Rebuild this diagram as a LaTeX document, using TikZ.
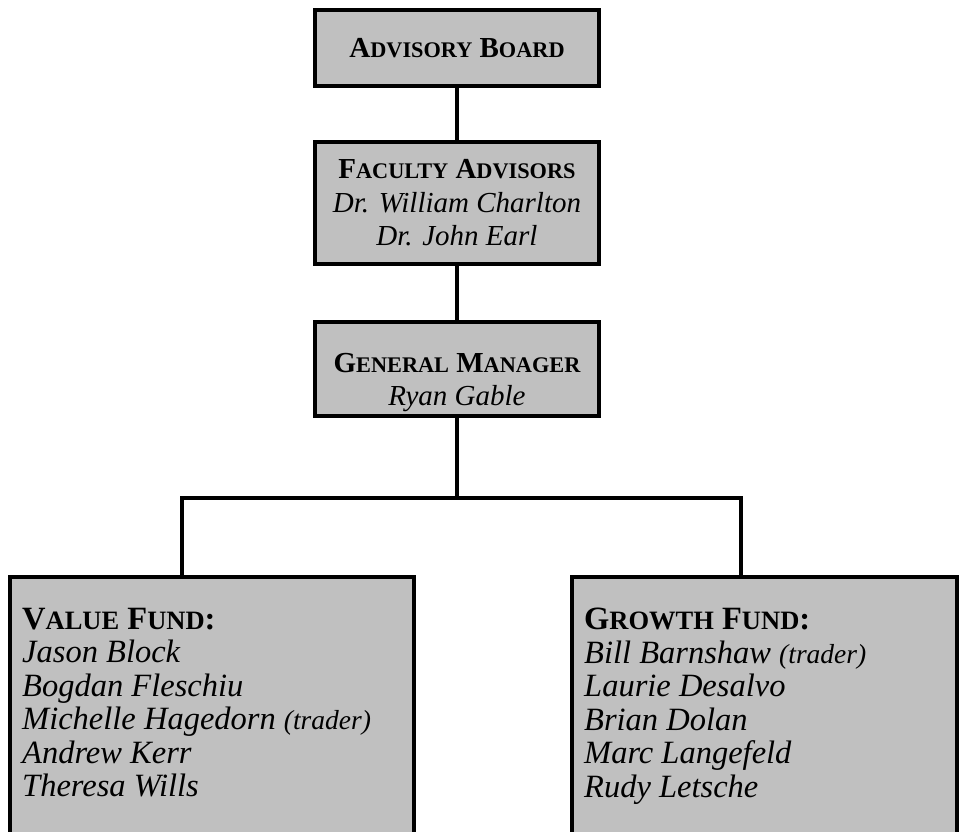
\documentclass[tikz,border=0pt]{standalone}
\usepackage{fontspec}
\setmainfont{Liberation Serif}
\definecolor{boxgray}{HTML}{C0C0C0}
\newcommand\fsc[2]{#1{\fontsize{22.3}{33.5}\selectfont #2}}
\newcommand\fscf[2]{#1{\fontsize{26.5}{33.5}\selectfont #2}}
\newcommand\trd{{\fontsize{27.5}{33.5}\selectfont (trader)}}
\begin{document}
\begin{tikzpicture}[x=1pt,y=-1pt,
  box/.style={draw=black, line width=4pt, fill=boxgray, anchor=north west, inner sep=0pt},
  conn/.style={line width=4.5pt, line join=miter},
  txt/.style={font=\fontsize{29}{33.5}\selectfont, inner sep=0pt},
  ftxt/.style={font=\fontsize{32.5}{33.5}\selectfont, inner sep=0pt, anchor=north west, align=left}]
\useasboundingbox (0,0) rectangle (962,832);
\clip (0,0) rectangle (962,832);
% boxes
\node[box, txt, minimum width=284pt, minimum height=76pt, align=center] (ab) at (313,8)
  {\bfseries\fsc{A}{DVISORY} \fsc{B}{OARD}};
\node[box, txt, minimum width=284pt, minimum height=122pt, align=center] (fa) at (313,140)
  {{\bfseries\fsc{F}{ACULTY} \fsc{A}{DVISORS}}\\{\itshape Dr. William Charlton}\\{\itshape Dr. John Earl}};
\node[box, txt, minimum width=284pt, minimum height=94pt, align=center] (gm) at (313,320)
  {\rule{0pt}{46pt}{\bfseries\fsc{G}{ENERAL} \fsc{M}{ANAGER}}\\{\itshape Ryan Gable}};
\node[box, minimum width=404pt, minimum height=300pt] (vf) at (8,575) {};
\node[box, minimum width=385pt, minimum height=300pt] (gf) at (570,575) {};
% fund texts
\node[ftxt] (vft) at (22,608)
  {{\bfseries\fscf{V}{ALUE} \fscf{F}{UND}:}\\
   {\itshape Jason Block}\\
   {\itshape Bogdan Fleschiu}\\
   {\itshape Michelle Hagedorn \trd}\\
   {\itshape Andrew Kerr}\\
   {\itshape Theresa Wills}};
\node[ftxt] (gft) at (584,608)
  {{\bfseries\fscf{G}{ROWTH} \fscf{F}{UND}:}\\
   {\itshape Bill Barnshaw \trd}\\
   {\itshape Laurie Desalvo}\\
   {\itshape Brian Dolan}\\
   {\itshape Marc Langefeld}\\
   {\itshape Rudy Letsche}};
% connectors
\coordinate (jl) at (182,498);
\coordinate (jr) at (741,498);
\draw[conn] (ab.south) -- (fa.north);
\draw[conn] (fa.south) -- (gm.north);
\draw[conn] (gm.south) -- (gm.south |- jl);
\draw[conn] (vf.north -| jl) -- (jl) -- (jr) -- (gf.north -| jr);
\end{tikzpicture}
\end{document}
